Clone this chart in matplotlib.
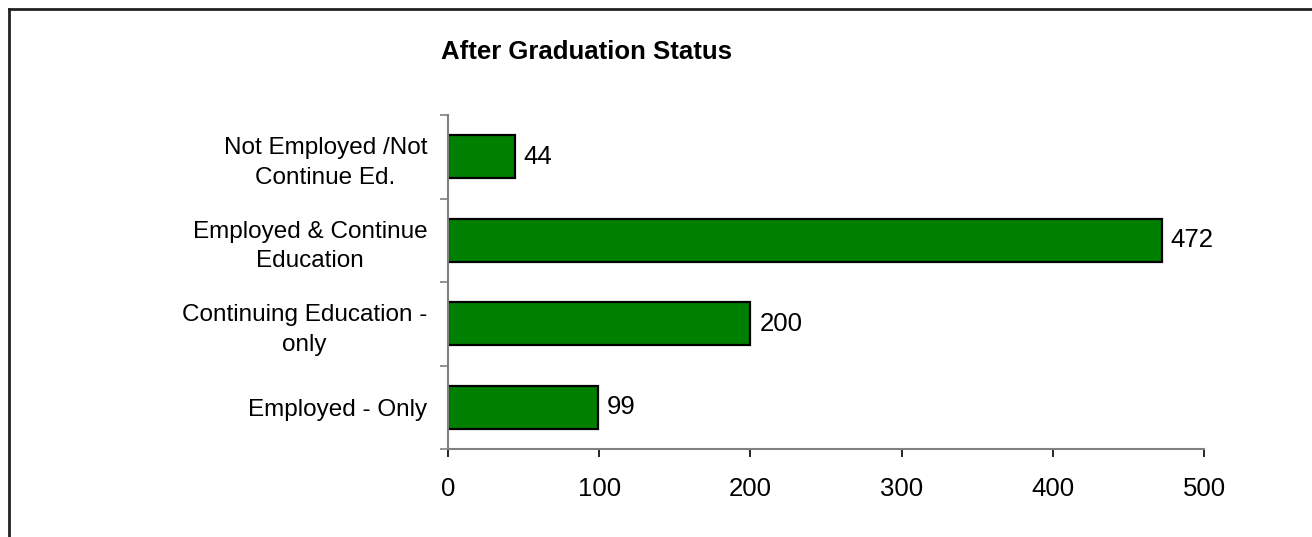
import matplotlib
matplotlib.use("Agg")
import matplotlib.pyplot as plt
from matplotlib.lines import Line2D
from matplotlib.ticker import FixedLocator

# data
categories = ["Employed - Only", "Continuing Education -\nonly",
              "Employed & Continue\nEducation", "Not Employed /Not\nContinue Ed."]
counts = [99, 200, 472, 44]
xticks = [0, 100, 200, 300, 400, 500]

plt.rcParams['font.family'] = ['Liberation Sans', 'DejaVu Sans']

fig = plt.figure(figsize=(13.12, 5.37), dpi=100)
ax = fig.add_axes([448/1312, 1 - 449/537, (1204 - 448)/1312, (449 - 115)/537])

ypos = list(range(len(categories)))
ax.barh(ypos, counts, height=0.515, color='#008000', edgecolor='black', linewidth=1.6)
for y, v in zip(ypos, counts):
    ax.text(v + 6, y, str(v), va='center', ha='left', fontsize=18.5)

ax.set_xlim(0, 500)
ax.set_ylim(-0.5, len(categories) - 0.5)
ax.set_xticks(xticks)
ax.set_xticklabels([str(t) for t in xticks], fontsize=18.5)
ax.set_yticks(ypos)
ax.set_yticklabels(categories, fontsize=17.5, ha='right', multialignment='center',
                   linespacing=1.45)
ax.yaxis.set_minor_locator(FixedLocator([i - 0.5 for i in range(len(categories) + 1)]))
ax.tick_params(axis='y', which='major', length=0, pad=15)
ax.tick_params(axis='y', which='minor', length=6, width=1.2, color='#808080', direction='out')
ax.tick_params(axis='x', length=6, width=1.2, color='black', direction='out', pad=14)

for s in ['top', 'right']:
    ax.spines[s].set_visible(False)
for s in ['left', 'bottom']:
    ax.spines[s].set_color('#808080')
    ax.spines[s].set_linewidth(1.5)

fig.text(441/1312, 1 - 52/537, "After Graduation Status", fontsize=18.5, fontweight='bold',
         ha='left', va='center')

# outer frame (left and top only)
fig.add_artist(Line2D([9/1312, 9/1312], [0, 1 - 9/537], transform=fig.transFigure,
                      color='#222222', linewidth=2))
fig.add_artist(Line2D([9/1312, 1], [1 - 9/537, 1 - 9/537], transform=fig.transFigure,
                      color='#222222', linewidth=2))

fig.savefig("out.png", dpi=100, facecolor='white')
